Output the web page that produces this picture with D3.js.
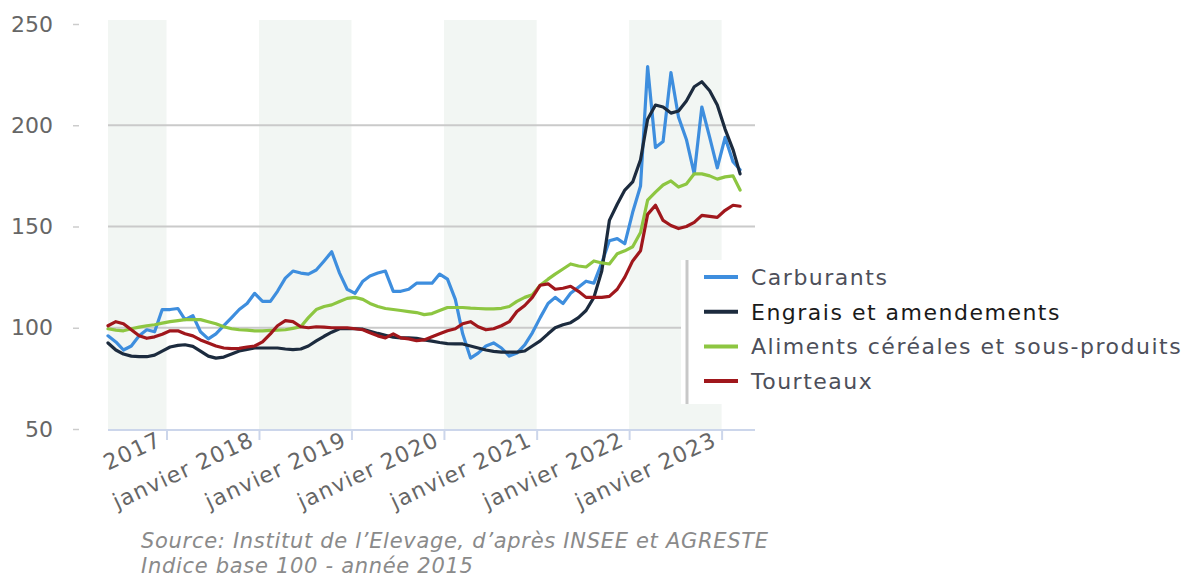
<!DOCTYPE html>
<html lang="fr">
<head>
<meta charset="utf-8">
<script src="https://cdn.jsdelivr.net/npm/d3@7"></script>
<style>
  html, body { margin: 0; padding: 0; background: #fff; }
  svg { display: block; font-family: "DejaVu Sans", Verdana, sans-serif; }
</style>
</head>
<body>
<svg id="chart" width="1193" height="578"></svg>
<script>
// monthly indices, mai 2016 -> mars 2023 (base 100 = 2015)
const firstMonth = new Date(2016, 4, 15);
const monthCount = 83;

const seriesNames = ["Carburants", "Engrais et amendements", "Aliments céréales et sous-produits", "Tourteaux"];
const seriesColors = ["#3e8ede", "#1c2b3e", "#8dc641", "#a0171c"];

const carburants = [
  96, 93, 89, 91, 96, 99, 98, 109, 109, 109.5,
  104, 106, 98, 94.5, 97, 101, 105, 109, 112, 117,
  113, 113, 118, 124.5, 128, 127, 126.5, 128.5, 133, 137.5,
  127, 119, 117, 123, 125.6, 127, 128, 118, 118, 119,
  122, 122, 122, 126.5, 124, 114, 97, 85, 87.5, 91,
  92.5, 90, 86, 87.5, 91.5, 97.5, 105, 112, 115, 112,
  117, 120, 123, 122, 132, 143, 144, 141.5, 157, 170,
  229, 189, 192, 226, 204, 193, 176, 209, 194, 179,
  194, 182, 178
];
const engrais = [
  92.5, 89, 87, 86, 85.7, 85.7, 86.5, 88.5, 90.5, 91.3,
  91.6, 90.8, 88.5, 86, 85, 85.5, 87, 88.5, 89.3, 90,
  90, 90, 90, 89.5, 89.2, 89.5, 91, 93.5, 95.8, 97.8,
  99.5, 99.5, 99.5, 99.3, 98.3, 97.2, 96.3, 95.3, 95, 95,
  94.8, 94, 93.4, 92.7, 92.2, 92, 92, 91, 90, 89,
  88.3, 88, 88, 88, 88.5, 91, 93.5, 97, 100, 101.5,
  102.5, 105, 108.5, 115, 128, 153, 161, 168, 172, 183,
  203, 210, 209, 206, 207, 212, 219, 221.5, 217, 210,
  198, 188, 176
];
const aliments = [
  99.5, 98.8, 98.5, 99.5, 100.3, 101, 101.5, 102.3, 103, 103.5,
  104, 104, 104, 103, 102, 100.5, 99.5, 99, 98.8, 98.5,
  98.5, 98.7, 98.8, 99, 99.7, 100.5, 105, 109, 110.5, 111.3,
  113, 114.5, 115, 114, 112, 110.5, 109.5, 109, 108.5, 108,
  107.5, 106.5, 107, 108.5, 110, 110, 110, 109.7, 109.5, 109.3,
  109.3, 109.6, 110.5, 113, 115, 116.3, 121, 124, 126.5, 129,
  131.5, 130.5, 130, 133, 132, 131.5, 136.5, 138, 140, 147,
  163, 167, 170.5, 172.5, 169.5, 171, 176, 176, 175, 173.4,
  174.5, 175, 168
];
const tourteaux = [
  101, 103, 102, 99, 96, 94.8, 95.5, 96.8, 98.5, 98.5,
  97, 96, 94, 92.5, 91, 90, 89.7, 89.8, 90.5, 91,
  93, 97, 101, 103.5, 103, 100.5, 100, 100.5, 100.3, 100,
  100, 100, 99.5, 99, 97.5, 96, 95, 97, 95, 94.5,
  93.6, 94, 95.5, 97, 98.5, 99.5, 102, 103, 100.5, 99,
  99.5, 101, 103, 108, 111, 115, 121, 121.7, 119, 119.5,
  120.5, 118, 115, 115, 115, 115.5, 119, 125, 133, 138,
  156, 160.5, 153, 150.5, 149, 150, 152, 155.5, 155, 154.5,
  158, 160.5, 160
];

const yTicks = [50, 100, 150, 200, 250];
const yGridValues = [100, 150, 200];
const xTickYears = [2017, 2018, 2019, 2020, 2021, 2022, 2023];
const xTickLabels = ["2017", "janvier 2018", "janvier 2019", "janvier 2020", "janvier 2021", "janvier 2022", "janvier 2023"];
const bandYears = [2016, 2018, 2020, 2022];
const sourceLines = ["Source: Institut de l’Elevage, d’après INSEE et AGRESTE", "Indice base 100 - année 2015"];

const months = d3.timeMonth.range(d3.timeMonth.floor(firstMonth), d3.timeMonth.offset(firstMonth, monthCount))
  .map(d => new Date(d.getFullYear(), d.getMonth(), 15));
const allSeries = [carburants, engrais, aliments, tourteaux];

const svg = d3.select("#chart");
const plot = { left: 108, right: 752, top: 24, bottom: 429 };

const x = d3.scaleTime()
  .domain([firstMonth, new Date(2023, 4, 1)])
  .range([plot.left, plot.right]);
const y = d3.scaleLinear().domain([50, 250]).range([plot.bottom, plot.top]);

// alternate year bands
svg.append("g").selectAll("rect")
  .data(bandYears)
  .join("rect")
  .attr("x", d => Math.max(plot.left, x(new Date(d, 0, 1))))
  .attr("width", d => Math.min(plot.right, x(new Date(d + 1, 0, 1))) - Math.max(plot.left, x(new Date(d, 0, 1))))
  .attr("y", plot.top - 4)
  .attr("height", plot.bottom - plot.top + 4)
  .attr("fill", "#f2f6f3");

// grid
svg.append("g").selectAll("line")
  .data(yGridValues)
  .join("line")
  .attr("x1", plot.left).attr("x2", plot.right + 3)
  .attr("y1", d => y(d)).attr("y2", d => y(d))
  .attr("stroke", "#cacaca")
  .attr("stroke-width", 2);

// y axis (labels + little dashes)
const yAxis = svg.append("g")
  .attr("transform", "translate(79,0)")
  .call(d3.axisLeft(y).tickValues(yTicks).tickSize(6).tickPadding(20));
yAxis.select(".domain").remove();
yAxis.selectAll(".tick line").attr("stroke", "#cccccc").attr("stroke-width", 1.5);
yAxis.selectAll(".tick text")
  .attr("fill", "#666666")
  .style("font-size", "22px")
  .style("font-family", "'DejaVu Sans', Verdana, sans-serif");

// x axis
const xAxis = svg.append("g")
  .attr("transform", `translate(0,${plot.bottom + 1})`)
  .call(d3.axisBottom(x)
    .tickValues(xTickYears.map(yr => new Date(yr, 0, 1)))
    .tickSize(10)
    .tickFormat((d, i) => xTickLabels[i]));
xAxis.select(".domain")
  .attr("d", `M${plot.left},0H${plot.right + 3}`)
  .attr("stroke", "#ccd6eb")
  .attr("stroke-width", 2);
xAxis.selectAll(".tick line").attr("stroke", "#ccd6eb").attr("stroke-width", 2);
xAxis.selectAll(".tick text")
  .attr("fill", "#666666")
  .style("font-size", "22px")
  .style("letter-spacing", "1.2px")
  .style("font-family", "'DejaVu Sans', Verdana, sans-serif")
  .attr("text-anchor", "end")
  .attr("dy", null)
  .attr("y", null)
  .attr("transform", "translate(-4,15) rotate(-25)");

// lines
const line = d3.line()
  .x((d, i) => x(months[i]))
  .y(d => y(d));
svg.append("g").selectAll("path")
  .data(allSeries)
  .join("path")
  .attr("d", line)
  .attr("fill", "none")
  .attr("stroke", (d, i) => seriesColors[i])
  .attr("stroke-width", 3.2)
  .attr("stroke-linejoin", "round")
  .attr("stroke-linecap", "round");

// legend
const legend = svg.append("g");
legend.append("rect")
  .attr("x", 681).attr("y", 260)
  .attr("width", 512).attr("height", 144)
  .attr("fill", "#ffffff");
legend.append("line")
  .attr("x1", 687).attr("x2", 687)
  .attr("y1", 260).attr("y2", 404)
  .attr("stroke", "#c8c8c8")
  .attr("stroke-width", 3);
const items = legend.selectAll("g.item")
  .data(seriesNames)
  .join("g")
  .attr("class", "item")
  .attr("transform", (d, i) => `translate(704,${277 + i * 34.7})`);
items.append("line")
  .attr("x1", 0).attr("x2", 34)
  .attr("stroke", (d, i) => seriesColors[i])
  .attr("stroke-width", 4);
items.append("text")
  .attr("x", 47)
  .attr("y", 8)
  .attr("fill", (d, i) => i === 1 ? "#1a1a1a" : "#4d4f5a")
  .style("font-size", "22px")
  .style("letter-spacing", "1.5px")
  .text(d => d);

// source note
svg.append("g").selectAll("text")
  .data(sourceLines)
  .join("text")
  .attr("x", 141)
  .attr("y", (d, i) => 548 + i * 25)
  .attr("fill", "#8a8a8a")
  .style("font-size", "21px")
  .style("letter-spacing", "0.7px")
  .style("font-style", "italic")
  .text(d => d);
</script>
</body>
</html>
